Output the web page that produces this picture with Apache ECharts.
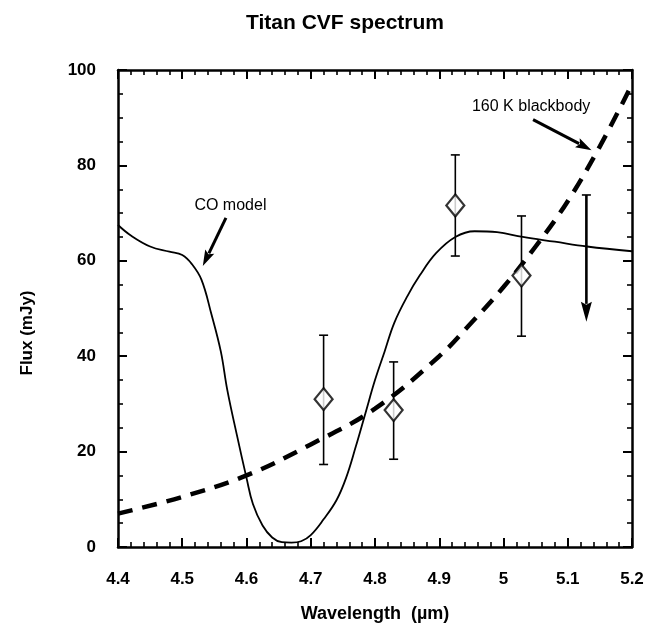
<!DOCTYPE html>
<html>
<head>
<meta charset="utf-8">
<script src="https://cdn.jsdelivr.net/npm/echarts@6/dist/echarts.min.js"></script>
<style>
html,body{margin:0;padding:0;background:#fff;}
#chart{width:653px;height:635px;}
</style>
</head>
<body>
<div id="chart"></div>
<script>
// ---- Data ----
const xTicks = [4.4, 4.5, 4.6, 4.7, 4.8, 4.9, 5.0, 5.1, 5.2];
const yTicks = [0, 20, 40, 60, 80, 100];

// CO model curve (solid)
const coX = [4.40, 4.42, 4.45, 4.48, 4.50, 4.515, 4.53, 4.545, 4.56, 4.57, 4.585, 4.60, 4.61, 4.625, 4.64, 4.655, 4.67, 4.685, 4.70, 4.72, 4.74, 4.755, 4.77, 4.785, 4.80, 4.815, 4.83, 4.85, 4.87, 4.895, 4.925, 4.955, 4.99, 5.03, 5.08, 5.13, 5.20];
const coY = [67.5, 65.3, 63.0, 61.9, 61.2, 59.3, 56.0, 49.0, 41.0, 33.0, 23.5, 14.5, 9.0, 4.5, 2.0, 1.0, 0.9, 1.2, 2.5, 5.8, 9.8, 14.5, 21.0, 28.0, 35.0, 41.0, 47.0, 52.5, 57.0, 61.6, 65.0, 66.2, 66.0, 65.0, 64.0, 63.0, 62.0];

// 160 K blackbody curve (dashed)
const bbX = [4.40, 4.50, 4.60, 4.70, 4.80, 4.90, 4.95, 5.00, 5.05, 5.10, 5.15, 5.20];
const bbY = [7.0, 10.5, 15.0, 21.5, 29.0, 40.0, 47.0, 54.5, 63.0, 72.5, 84.0, 97.0];

// CVF measurements with error bars
const ptX = [4.72, 4.829, 4.925, 5.028];
const ptY = [31.0, 28.7, 71.6, 56.9];
const errLow = [17.3, 18.4, 61.0, 44.2];
const errHigh = [44.4, 38.8, 82.2, 69.4];

// Upper limit (arrow pointing down)
const ulX = [5.129];
const ulFrom = [73.8];
const ulTo = [47.2];

// Annotations: label, text position, arrow tail, arrow tip (data coords)
const annLabels = ['CO model', '160 K blackbody'];
const annTextPos = [[4.575, 71.6], [5.043, 92.4]];
const annTail = [[4.568, 69.0], [5.046, 89.6]];
const annTip = [[4.532, 58.9], [5.137, 83.2]];

// ---- Build chart ----
const zip = (a, b) => a.map((v, i) => [v, b[i]]);
const FONT = '"Liberation Sans", Arial, Helvetica, sans-serif';

function arrowShapes(p1, p2, headLen, headW, lw) {
  const dx = p2[0] - p1[0], dy = p2[1] - p1[1];
  const L = Math.sqrt(dx * dx + dy * dy);
  const ux = dx / L, uy = dy / L;
  const bx = p2[0] - ux * headLen, by = p2[1] - uy * headLen;
  const nx = -uy, ny = ux;
  return [
    { type: 'line', shape: { x1: p1[0], y1: p1[1], x2: bx + ux * 2, y2: by + uy * 2 },
      style: { stroke: '#000', lineWidth: lw } },
    { type: 'polygon', shape: { points: [[p2[0], p2[1]], [bx + nx * headW / 2, by + ny * headW / 2], [bx + ux * 3, by + uy * 3], [bx - nx * headW / 2, by - ny * headW / 2]] },
      style: { fill: '#000' } }
  ];
}

const axisCommon = {
  type: 'value',
  axisLine: { show: true, onZero: false, lineStyle: { color: '#000', width: 2.5 } },
  axisTick: { show: true, inside: true, length: 9, lineStyle: { color: '#000', width: 2 } },
  minorTick: { show: true, length: 5, lineStyle: { color: '#000', width: 1.6 } },
  splitLine: { show: false },
  minorSplitLine: { show: false }
};

const labelStyle = { color: '#000', fontFamily: FONT, fontSize: 17, fontWeight: 'bold' };

const option = {
  animation: false,
  backgroundColor: '#fff',
  title: {
    text: 'Titan CVF spectrum',
    left: 340, top: 8, textAlign: 'center',
    textStyle: { fontFamily: FONT, fontSize: 21, fontWeight: 'bold', color: '#000' }
  },
  grid: { left: 118, right: 21, top: 70, bottom: 88 },
  xAxis: [
    Object.assign({}, axisCommon, {
      position: 'bottom', min: xTicks[0], max: xTicks[xTicks.length - 1], interval: 0.1,
      minorTick: Object.assign({}, axisCommon.minorTick, { splitNumber: 5 }),
      axisLabel: Object.assign({ margin: 24, formatter: v => String(Math.round(v * 10) / 10) }, labelStyle),
      name: 'Wavelength  (\u00b5m)', nameLocation: 'middle', nameGap: 58,
      nameTextStyle: { fontFamily: FONT, fontSize: 18, fontWeight: 'bold', color: '#000' }
    }),
    Object.assign({}, axisCommon, {
      position: 'top', min: xTicks[0], max: xTicks[xTicks.length - 1], interval: 0.1,
      minorTick: Object.assign({}, axisCommon.minorTick, { splitNumber: 5 }),
      axisLabel: { show: false }
    })
  ],
  yAxis: [
    Object.assign({}, axisCommon, {
      position: 'left', min: yTicks[0], max: yTicks[yTicks.length - 1], interval: 20,
      minorTick: Object.assign({}, axisCommon.minorTick, { splitNumber: 4 }),
      axisLabel: Object.assign({ margin: 22 }, labelStyle)
    }),
    Object.assign({}, axisCommon, {
      position: 'right', min: yTicks[0], max: yTicks[yTicks.length - 1], interval: 20,
      minorTick: Object.assign({}, axisCommon.minorTick, { splitNumber: 4 }),
      axisLabel: { show: false }
    })
  ],
  graphic: [{
    type: 'text', x: 27, y: 333, rotation: Math.PI / 2,
    style: { text: 'Flux (mJy)', fontFamily: FONT, fontSize: 17, fontWeight: 'bold', fill: '#000', align: 'center', verticalAlign: 'middle' }
  }],
  series: [
    {
      type: 'line', name: 'CO model', data: zip(coX, coY), smooth: 0.4, showSymbol: false,
      lineStyle: { color: '#000', width: 1.8 }, z: 3
    },
    {
      type: 'line', name: '160 K blackbody', data: zip(bbX, bbY), smooth: 0.4, showSymbol: false,
      lineStyle: { color: '#000', width: 4.5, type: [15, 10], cap: 'butt' }, z: 3
    },
    {
      type: 'custom', name: 'errors',
      data: ptX.map((x, i) => [x, errLow[i], errHigh[i]]),
      renderItem: function (params, api) {
        const lo = api.coord([api.value(0), api.value(1)]);
        const hi = api.coord([api.value(0), api.value(2)]);
        const c = 4.5;
        const st = { stroke: '#000', lineWidth: 1.6 };
        return { type: 'group', children: [
          { type: 'line', shape: { x1: lo[0], y1: lo[1], x2: hi[0], y2: hi[1] }, style: st },
          { type: 'line', shape: { x1: lo[0] - c, y1: lo[1], x2: lo[0] + c, y2: lo[1] }, style: st },
          { type: 'line', shape: { x1: hi[0] - c, y1: hi[1], x2: hi[0] + c, y2: hi[1] }, style: st }
        ] };
      },
      z: 4
    },
    {
      type: 'scatter', name: 'CVF', data: zip(ptX, ptY), symbol: 'diamond', symbolSize: [18, 22],
      itemStyle: { color: '#fff', borderColor: '#000', borderWidth: 2.2 }, z: 5
    },
    {
      type: 'custom', name: 'upper limit',
      data: ulX.map((x, i) => [x, ulFrom[i], ulTo[i]]),
      renderItem: function (params, api) {
        const p1 = api.coord([api.value(0), api.value(1)]);
        const p2 = api.coord([api.value(0), api.value(2)]);
        const st = { stroke: '#000', lineWidth: 1.6 };
        const shapes = arrowShapes(p1, p2, 20, 11, 2.6);
        shapes.push({ type: 'line', shape: { x1: p1[0] - 4.5, y1: p1[1], x2: p1[0] + 4.5, y2: p1[1] }, style: st });
        return { type: 'group', children: shapes };
      },
      z: 5
    },
    {
      type: 'custom', name: 'annotations',
      data: annLabels.map((t, i) => [annTextPos[i][0], annTextPos[i][1], annTail[i][0], annTail[i][1], annTip[i][0], annTip[i][1]]),
      renderItem: function (params, api) {
        const tp = api.coord([api.value(0), api.value(1)]);
        const p1 = api.coord([api.value(2), api.value(3)]);
        const p2 = api.coord([api.value(4), api.value(5)]);
        const shapes = arrowShapes(p1, p2, 16, 10, 3);
        shapes.push({ type: 'text', x: tp[0], y: tp[1],
          style: { text: annLabels[params.dataIndex], fontFamily: FONT, fontSize: 16, fill: '#000', align: 'center', verticalAlign: 'middle' } });
        return { type: 'group', children: shapes };
      },
      z: 6
    }
  ]
};

const chart = echarts.init(document.getElementById('chart'), null, { renderer: 'canvas' });
chart.setOption(option);
</script>
</body>
</html>
